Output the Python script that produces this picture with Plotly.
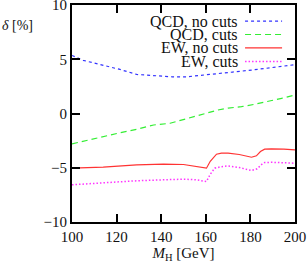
import plotly.graph_objects as go

# Data
mh_qcd_nc = [100, 105, 110, 114, 121.5, 129, 138, 145, 151.4, 158, 165.4, 172, 180.5, 190, 198.4, 200]
qcd_nocuts = [5.35, 4.9, 4.65, 4.46, 4.06, 3.6, 3.45, 3.38, 3.38, 3.5, 3.69, 3.82, 4.0, 4.25, 4.46, 4.5]

mh_qcd_c = [100, 107, 114, 121, 129, 136.6, 144, 150.6, 158, 165.4, 170, 176, 182, 188, 194, 200]
qcd_cuts = [-2.8, -2.45, -2.13, -1.8, -1.45, -1.06, -0.9, -0.53, -0.12, 0.32, 0.5, 0.63, 0.85, 1.09, 1.4, 1.7]

mh_ew_nc = [100, 114, 129, 141, 150, 155, 160.3, 162, 164.8, 167, 170, 175, 180.5, 182.7, 184.5, 186.4, 189.4, 195, 200]
ew_nocuts = [-5.04, -4.94, -4.73, -4.67, -4.7, -4.85, -5.04, -4.4, -3.75, -3.66, -3.66, -3.78, -4.03, -3.9, -3.5, -3.29, -3.26, -3.28, -3.35]

mh_ew_c = [100, 114, 129, 141, 150.6, 156, 160.3, 162, 164, 167, 170, 175, 180.5, 183, 185, 186.4, 189.4, 195, 200]
ew_cuts = [-6.57, -6.36, -6.2, -6.11, -6.05, -6.12, -6.27, -5.6, -5.04, -4.9, -4.83, -4.98, -5.26, -5.1, -4.7, -4.52, -4.5, -4.54, -4.58]

legend_labels = ["QCD, no cuts", "QCD, cuts", "EW, no cuts", "EW, cuts"]
x_ticks = [100, 120, 140, 160, 180, 200]
y_ticks = [-10, -5, 0, 5, 10]

colors = ["#3333ff", "#33ee33", "#ff3333", "#ff33ff"]
dashes = ["3px,3px", "6px,4px", "solid", "1.5px,2px"]
widths = [1.2, 1.2, 1.2, 1.5]

series = [(mh_qcd_nc, qcd_nocuts), (mh_qcd_c, qcd_cuts), (mh_ew_nc, ew_nocuts), (mh_ew_c, ew_cuts)]

FONT = "Liberation Serif"
TXT = "#111"
fig = go.Figure()
for (xs, ys), name, c, d, w in zip(series, legend_labels, colors, dashes, widths):
    fig.add_trace(go.Scatter(x=xs, y=ys, mode="lines", name=name,
                             line=dict(color=c, dash=d, width=w),
                             showlegend=False))

# custom legend: text right-aligned, sample line to the right
row_y = [0.926, 0.864, 0.802, 0.740]
for lbl, yy, c, d, w in zip(legend_labels, row_y, colors, dashes, widths):
    fig.add_annotation(x=0.748, y=yy, xref="paper", yref="paper", text=lbl,
                       showarrow=False, xanchor="right", yanchor="middle", borderpad=0,
                       font=dict(family=FONT, size=16, color=TXT))
    fig.add_shape(type="line", xref="paper", yref="paper", x0=0.776, x1=0.942, y0=yy, y1=yy,
                  line=dict(color=c, dash=d, width=w))

fig.add_annotation(x=-0.318, y=0.905, xref="paper", yref="paper", text="<i>δ</i> [%]",
                   showarrow=False, xanchor="left", yanchor="middle", borderpad=0,
                   font=dict(family=FONT, size=14, color=TXT))

axis_common = dict(showline=True, linecolor="black", linewidth=2, mirror="ticks",
                   ticks="inside", ticklen=8, tickwidth=1.5, tickcolor="black",
                   showgrid=False, zeroline=False, ticklabeloverflow="allow",
                   automargin=False,
                   tickfont=dict(family=FONT, size=15, color=TXT))

fig.update_xaxes(range=[100, 200], tickvals=x_ticks, ticktext=[str(v) for v in x_ticks],
                 title=dict(text="<i>M</i><sub>H</sub> [GeV]", font=dict(family=FONT, size=15, color=TXT),
                            standoff=2),
                 **axis_common)
fig.update_yaxes(range=[-10, 10], tickvals=y_ticks, **axis_common)

fig.update_layout(width=307, height=266, margin=dict(l=72, r=12, t=5, b=44),
                  plot_bgcolor="white", paper_bgcolor="white", showlegend=False)

fig.write_html("out.html", config={"displayModeBar": False},
               post_script="document.body.style.margin='0';document.body.style.overflow='hidden';")
